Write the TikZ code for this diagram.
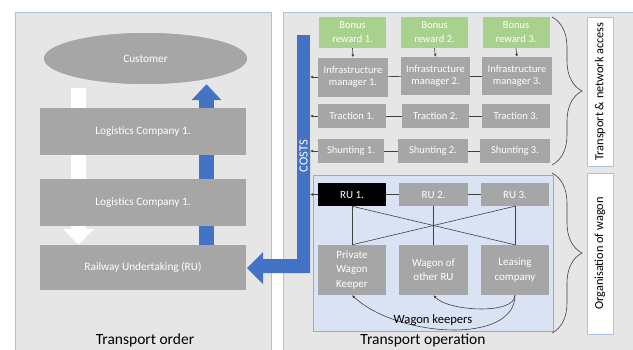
\documentclass[tikz,border=0pt]{standalone}
\usepackage{fontspec}
\setmainfont{Carlito}
\usetikzlibrary{arrows.meta,shapes.geometric,decorations.pathreplacing}
\definecolor{panelfill}{HTML}{E7E6E6}
\definecolor{panelline}{HTML}{A9C4E2}
\definecolor{boxgrey}{HTML}{A6A6A6}
\definecolor{bonusgreen}{HTML}{A9D18E}
\definecolor{costblue}{HTML}{4472C4}
\definecolor{wagonfill}{HTML}{DAE3F3}
\definecolor{wagonline}{HTML}{8FAADC}
\definecolor{linkgrey}{HTML}{404040}
\begin{document}
\begin{tikzpicture}[x=1pt,y=-1pt,
  panel/.style={fill=panelfill,draw=panelline,line width=0.8pt},
  greybox/.style={fill=boxgrey,text=white,align=center,inner sep=0pt,font=\fontsize{10.5}{12}\selectfont},
  leftbox/.style={greybox,minimum width=206pt,font=\fontsize{11.3}{13}\selectfont},
  bonusbox/.style={fill=bonusgreen,text=white,align=center,inner sep=0pt,minimum width=67pt,minimum height=31pt,font=\fontsize{10.5}{14}\selectfont},
  wagonbox/.style={greybox,minimum width=69pt,minimum height=50pt,font=\fontsize{11}{14.5}\selectfont},
  rubox/.style={greybox,minimum width=68pt,minimum height=23pt,font=\fontsize{11}{13}\selectfont},
  rowbox/.style={greybox,minimum width=68pt,minimum height=24pt,font=\fontsize{10.5}{12}\selectfont},
  link/.style={draw=linkgrey,line width=0.6pt},
  smallarrow/.style={link,-{Latex[length=3pt,width=3pt]}},
  labelbox/.style={fill=white,draw=panelline,line width=0.8pt,inner sep=0pt,minimum width=26pt,text=black},
  bracestyle/.style={draw=linkgrey,line width=0.6pt,decorate,decoration={brace,amplitude=30pt}},
  bigwhite/.style={draw=white,line width=15pt,-{Triangle[width=30pt,length=16pt]}},
  bigblue/.style={draw=costblue,line width=15pt,-{Triangle[width=29pt,length=16pt]}}
]
\useasboundingbox (0,0) rectangle (633,349);
% panels
\path[panel] (15,12) rectangle (271,360);
\path[panel] (283,12) rectangle (645,360);
% left column
\coordinate (wx) at (78.5,0);
\coordinate (bx) at (206.5,0);
\node[ellipse,fill=boxgrey,text=white,minimum width=203pt,minimum height=51pt,inner sep=0pt,font=\fontsize{11.3}{13}\selectfont] (cust) at (145.5,58.5) {Customer};
\node[leftbox,minimum height=45pt] (ru) at (143,267.5) {Railway Undertaking (RU)};
\draw[bigwhite] ([yshift=-4pt]cust.south -| wx) -- (ru.north -| wx);
\draw[bigblue] (ru.north -| bx) -- (cust.south -| bx);
\node[ellipse,fill=boxgrey,text=white,minimum width=203pt,minimum height=51pt,inner sep=0pt,font=\fontsize{11.3}{13}\selectfont] at (145.5,58.5) {Customer};
\node[leftbox,minimum height=47pt] (lc1) at (143,131.5) {Logistics Company 1.};
\node[leftbox,minimum height=47pt] (lc2) at (143,202.5) {Logistics Company 1.};
\node[leftbox,minimum height=45pt] at (143,267.5) {Railway Undertaking (RU)};
\node[font=\fontsize{15.5}{18}\selectfont,inner sep=0pt] (to) at (145,340) {Transport order};
% COSTS bar
\node[fill=costblue,minimum width=13pt,minimum height=238pt,inner sep=0pt] (bar) at (303.5,154) {};
\fill[costblue] (310,273) -- (263,273) -- (263,284) -- (247,268) -- (263,252) -- (263,259) -- (297,259) -- (297,150) -- (310,150) -- cycle;
\node[rotate=90,text=white,font=\fontsize{12.5}{14}\selectfont] (coststxt) at (303.5,156) {COSTS};
% wagon area
\path[fill=wagonfill,draw=wagonline,line width=0.6pt] (313,175) rectangle (553,331);
% bonus
\node[bonusbox] (b1) at (352.5,32.5) {Bonus\\reward 1.};
\node[bonusbox] (b2) at (434.5,32.5) {Bonus\\reward 2.};
\node[bonusbox] (b3) at (516,32.5) {Bonus\\reward 3.};
% infrastructure
\node[greybox,minimum width=70pt,minimum height=39pt] (im1) at (353,77) {Infrastructure\\manager 1.};
\node[greybox,minimum width=69pt,minimum height=38pt] (im2) at (435.5,76) {Infrastructure\\manager 2.};
\node[greybox,minimum width=70pt,minimum height=38pt] (im3) at (517,76) {Infrastructure\\manager 3.};
\node[rowbox] (t1) at (352,116) {Traction 1.};
\node[rowbox,minimum width=67pt] (t2) at (435.5,116) {Traction 2.};
\node[rowbox] (t3) at (516,116) {Traction 3.};
\node[rowbox,minimum width=66pt] (s1) at (351,151) {Shunting 1.};
\node[rowbox,minimum width=70pt] (s2) at (433,151) {Shunting 2.};
\node[rowbox,minimum width=70pt] (s3) at (515,151) {Shunting 3.};
% RU and wagon keepers
\node[rubox,fill=black] (r1) at (352,194.5) {RU 1.};
\node[rubox,minimum width=69pt] (r2) at (433.5,194.5) {RU 2.};
\node[rubox] (r3) at (515,194.5) {RU 3.};
\node[wagonbox,minimum width=68pt] (pwk) at (352,270) {Private\\Wagon\\Keeper};
\node[wagonbox] (wor) at (433.5,270) {Wagon of\\other RU};
\node[wagonbox,minimum width=68pt] (lco) at (515,270) {Leasing\\company};
% links
\draw[smallarrow] (b1.south) -- (im1.north);
\draw[smallarrow] (b2.south) -- (im2.north);
\draw[smallarrow] (b3.south) -- (im3.north);
\draw[link] (im1) -- (im2); \draw[link] (im2) -- (im3);
\draw[link] (t1) -- (t2); \draw[link] (t2) -- (t3);
\draw[link] (s1) -- (s2); \draw[link] (s2) -- (s3);
\draw[link] (r1) -- (r2); \draw[link] (r2) -- (r3);
\foreach \n in {im1,t1,s1,r1}{\draw[smallarrow] (\n.west) -- (\n.west -| bar.east);}
\draw[link] (r1.south) -- (pwk.north);
\draw[link] (r2.south) -- (wor.north);
\draw[link] (r3.south) -- (lco.north);
\draw[link] (r1.south) -- (lco.north);
\draw[link] (r3.south) -- (pwk.north);
\draw[smallarrow] (lco.south) .. controls +(0,20) and +(14,16) .. (wor.south);
\draw[smallarrow] (lco.south) .. controls +(0,50) and +(45,42) .. (pwk.south);
\node[font=\fontsize{12.6}{14}\selectfont] (wk) at (433,320) {Wagon keepers};
% braces and labels
\draw[bracestyle] (552,17) -- (552,165);
\draw[bracestyle] (552,173) -- (552,333);
\node[labelbox,minimum height=149pt] (lab1) at (600,91.5) {};
\node[rotate=90,font=\fontsize{12.3}{14}\selectfont] at (lab1.center) {Transport \& network access};
\node[labelbox,minimum height=161pt] (lab2) at (600,253.5) {};
\node[rotate=90,font=\fontsize{12.3}{14}\selectfont] at (lab2.center) {Organisation of wagon};
\node[font=\fontsize{15.5}{18}\selectfont,inner sep=0pt] (tp) at (423,340) {Transport operation};
\end{tikzpicture}
\end{document}
